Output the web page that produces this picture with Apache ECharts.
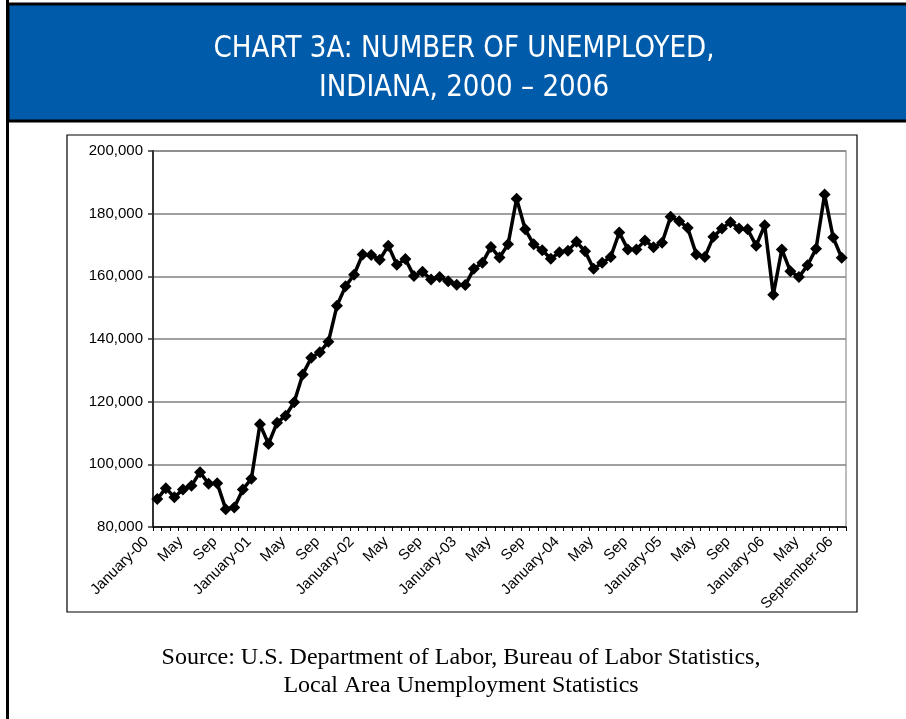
<!DOCTYPE html>
<html>
<head>
<meta charset="utf-8">
<script src="https://cdn.jsdelivr.net/npm/echarts@6/dist/echarts.min.js"></script>
<style>
html,body{margin:0;padding:0;background:#fff;}
#c{width:906px;height:719px;}
</style>
</head>
<body>
<div id="c"></div>
<script>
const categories = [
 "Jan-00","Feb-00","Mar-00","Apr-00","May-00","Jun-00","Jul-00","Aug-00","Sep-00","Oct-00","Nov-00","Dec-00",
 "Jan-01","Feb-01","Mar-01","Apr-01","May-01","Jun-01","Jul-01","Aug-01","Sep-01","Oct-01","Nov-01","Dec-01",
 "Jan-02","Feb-02","Mar-02","Apr-02","May-02","Jun-02","Jul-02","Aug-02","Sep-02","Oct-02","Nov-02","Dec-02",
 "Jan-03","Feb-03","Mar-03","Apr-03","May-03","Jun-03","Jul-03","Aug-03","Sep-03","Oct-03","Nov-03","Dec-03",
 "Jan-04","Feb-04","Mar-04","Apr-04","May-04","Jun-04","Jul-04","Aug-04","Sep-04","Oct-04","Nov-04","Dec-04",
 "Jan-05","Feb-05","Mar-05","Apr-05","May-05","Jun-05","Jul-05","Aug-05","Sep-05","Oct-05","Nov-05","Dec-05",
 "Jan-06","Feb-06","Mar-06","Apr-06","May-06","Jun-06","Jul-06","Aug-06","Sep-06"
];
const unemployed = [
 88900, 92400, 89500, 92000, 93200, 97500, 93800, 94000, 85700, 86200, 92000, 95400,
 112800,106500,113300,115500,119800,128700,134000,135800,139100,150600,156800,160500,
 167000,166800,165300,169800,163700,165500,160100,161500,159000,159800,158400,157300,
 157200,162400,164300,169400,166000,170200,184800,175000,170200,168300,165600,167700,
 168200,171000,168000,162400,164300,166200,174000,168600,168600,171400,169300,170700,
 179000,177600,175500,167000,166200,172600,175300,177300,175300,175000,169800,176300,
 154100,168600,161600,159800,163500,168800,186100,172400,165900
];
const tickLabels = [
 "January-00","May","Sep","January-01","May","Sep","January-02","May","Sep",
 "January-03","May","Sep","January-04","May","Sep","January-05","May","Sep",
 "January-06","May","September-06"
];
const yTicks = { min: 80000, max: 200000, interval: 20000 };
const titleLines = ["CHART 3A: NUMBER OF UNEMPLOYED,", "INDIANA, 2000 \u2013 2006"];
const sourceLines = ["Source: U.S. Department of Labor, Bureau of Labor Statistics,", "Local Area Unemployment Statistics"];

const titleFont = '30px "Liberation Sans Narrow","DejaVu Sans Condensed","Roboto Condensed",sans-serif';
const chart = echarts.init(document.getElementById('c'), null, {renderer:'canvas'});
const option = {
  animation: false,
  backgroundColor: '#ffffff',
  graphic: [
    {type:'rect', shape:{x:8,y:4,width:900,height:117}, style:{fill:'#005CAA', stroke:'#000', lineWidth:3}, z:0},
    {type:'rect', shape:{x:6,y:0,width:3,height:719}, style:{fill:'#000'}, z:1},
    {type:'text', x:464, y:49, scaleX:0.97, style:{text:titleLines[0], fill:'#fff', font:titleFont, align:'center', verticalAlign:'middle'}, z:2},
    {type:'text', x:464, y:88, scaleX:0.97, style:{text:titleLines[1], fill:'#fff', font:titleFont, align:'center', verticalAlign:'middle'}, z:2},
    {type:'rect', shape:{x:67,y:135,width:790,height:477}, style:{fill:'none', stroke:'#000', lineWidth:1.2}, z:0},
    {type:'text', x:461, y:658, style:{text:sourceLines[0], fill:'#000', font:'24px "Liberation Serif","Times New Roman",serif', align:'center', verticalAlign:'middle'}, z:2},
    {type:'text', x:461, y:686, style:{text:sourceLines[1], fill:'#000', font:'24px "Liberation Serif","Times New Roman",serif', align:'center', verticalAlign:'middle'}, z:2}
  ],
  grid: {left:153, right:60, top:151, bottom:192, show:true, borderColor:'#a6a6a6', borderWidth:1.5, backgroundColor:'transparent'},
  xAxis: {
    type:'category', data:categories, boundaryGap:true,
    axisLine:{show:true, lineStyle:{color:'#000', width:1.5}},
    axisTick:{show:true, interval:0, length:4, lineStyle:{color:'#000', width:1}},
    axisLabel:{interval:3, rotate:45, color:'#000', fontSize:15, fontFamily:'"Liberation Sans",Arial,sans-serif',
      margin:12, verticalAlign:'bottom', padding:[0,8,0,0],
      formatter:function(v, i){ return tickLabels[Math.round(i/4)] || ''; }},
    splitLine:{show:false}
  },
  yAxis: {
    type:'value', min:yTicks.min, max:yTicks.max, interval:yTicks.interval,
    axisLine:{show:true, lineStyle:{color:'#333', width:2}},
    axisTick:{show:true, length:5, lineStyle:{color:'#333', width:1.5}},
    axisLabel:{color:'#000', fontSize:15, fontFamily:'"Liberation Sans",Arial,sans-serif', margin:10,
      formatter:function(v){ return v.toLocaleString('en-US'); }},
    splitLine:{show:true, lineStyle:{color:'#808080', width:1.5}}
  },
  series: [{
    type:'line', data:unemployed, symbol:'diamond', symbolSize:12, showSymbol:true, showAllSymbol:true,
    lineStyle:{color:'#000', width:3.5}, itemStyle:{color:'#000'}
  }]
};
chart.setOption(option);
</script>
</body>
</html>
